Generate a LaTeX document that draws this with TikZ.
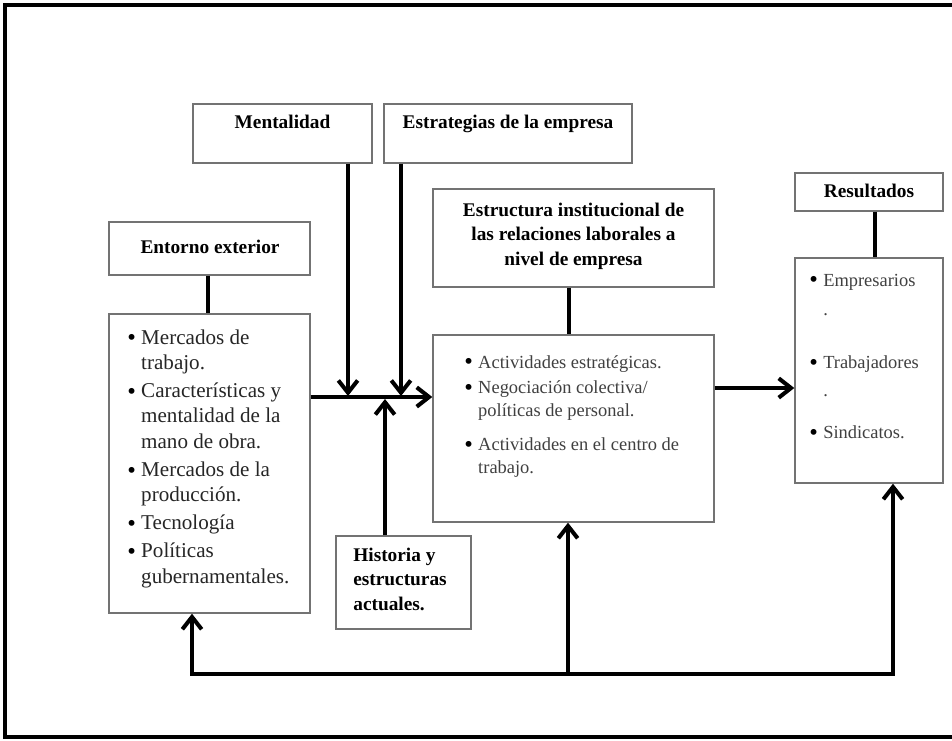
\documentclass[tikz,border=0pt]{standalone}
\usepackage{fontspec}
\setmainfont{Liberation Serif}
\usetikzlibrary{arrows.meta,fit}
\newcommand{\blt}{\raisebox{-1.1pt}{\color{black}\fontsize{14}{14}\selectfont\textbullet}}
\begin{document}
\begin{tikzpicture}[x=0.02cm,y=-0.02cm,
  box/.style={draw=black!55, line width=0.8pt, inner sep=0pt},
  hd/.style={font=\fontsize{11}{14.2}\selectfont\bfseries, inner sep=0pt, anchor=base},
  conn/.style={line width=2.3pt, black},
  arr/.style={conn, -{Straight Barb[length=7pt,width=11pt]}},
  lst/.style={inner sep=0pt, anchor=base west}]
\fill[white] (0,0) rectangle (952,740);
\useasboundingbox (0,0) rectangle (952,740);
% outer frame
\draw[line width=1.8pt] (960,5) -- (5,5) -- (5,737) -- (960,737);
% boxes
\node[box, fit={(193,104) (372,163)}] (ment) {};
\node[box, fit={(384,104) (632,163)}] (estr) {};
\node[box, fit={(109,222) (310,275)}] (ent) {};
\node[box, fit={(109,314) (310,613)}] (envbox) {};
\node[box, fit={(433,189) (714,287)}] (estc) {};
\node[box, fit={(433,335) (714,522)}] (act) {};
\node[box, fit={(795,173) (943,211)}] (res) {};
\node[box, fit={(795,258) (943,483)}] (resbox) {};
\node[box, fit={(336,536) (471,629)}] (hist) {};
% headings
\node[hd] (mentT) at (282.5,128) {Mentalidad};
\node[hd] (estrT) at (508,128) {Estrategias de la empresa};
\node[hd] (entT) at (210,253) {Entorno exterior};
\node[hd] (resT) at (869,197) {Resultados};
\node[hd] (estcT) at (573.5,216) {\begin{tabular}[t]{@{}c@{}}Estructura institucional de\\ las relaciones laborales a\\ nivel de empresa\end{tabular}};
\node[hd, anchor=base west] (histT) at (353,561) {\begin{tabular}[t]{@{}l@{}}Historia y\\ estructuras\\ actuales.\end{tabular}};
% lists
\node[lst, font=\fontsize{12}{14.5}\selectfont, text=black!85] (envT) at (127,344) {\begin{tabular}[t]{@{}l@{\hspace{3pt}}l@{}}
\blt & Mercados de\\
 & trabajo.\\[1.4pt]
\blt & Características y\\
 & mentalidad de la\\
 & mano de obra.\\[1.4pt]
\blt & Mercados de la\\
 & producción.\\[1.4pt]
\blt & Tecnología\\[1.4pt]
\blt & Políticas\\
 & gubernamentales.
\end{tabular}};
\node[lst, font=\fontsize{10.5}{13}\selectfont, text=black!75] (actT) at (464,368) {\begin{tabular}[t]{@{}l@{\hspace{3pt}}l@{}}
\blt & Actividades estratégicas.\\[1.7pt]
\blt & Negociación colectiva/\\
 & políticas de personal.\\[6.2pt]
\blt & Actividades en el centro de\\
 & trabajo.
\end{tabular}};
\node[lst, font=\fontsize{10.5}{15.9}\selectfont, text=black!75] (resL) at (809,286) {\begin{tabular}[t]{@{}l@{\hspace{3pt}}l@{}}
\blt & Empresarios\\[1.1pt]
 & .\\[14.2pt]
\blt & Trabajadores\\
 & .\\[7.9pt]
\blt & Sindicatos.
\end{tabular}};
% helper coordinates
\coordinate (mainY) at (0,397);
\coordinate (xent) at (208,0);
\coordinate (xestc) at (569,0);
\coordinate (xres) at (875,0);
\coordinate (xm) at (348,396);
\coordinate (xe) at (401,396);
\coordinate (xh) at (385,399);
\coordinate (yr) at (0,388);
\coordinate (fbL) at (192,674);
\coordinate (fbM) at (568,674);
\coordinate (fbR) at (893,674);
% plain connectors
\draw[conn] (ent.south -| xent) -- (envbox.north -| xent);
\draw[conn] (estc.south -| xestc) -- (act.north -| xestc);
\draw[conn] (res.south -| xres) -- (resbox.north -| xres);
% arrows
\draw[arr] (envbox.east |- mainY) -- (act.west |- mainY);
\draw[arr] (ment.south -| xm) -- (xm);
\draw[arr] (estr.south -| xe) -- (xe);
\draw[arr] (hist.north -| xh) -- (xh);
\draw[arr] (act.east |- yr) -- (resbox.west |- yr);
% feedback
\draw[arr] (fbM) -- (fbL) -- (envbox.south -| fbL);
\draw[arr] (fbM) -- (fbR) -- (resbox.south -| fbR);
\draw[arr] (fbM) -- (act.south -| fbM);
\end{tikzpicture}
\end{document}
